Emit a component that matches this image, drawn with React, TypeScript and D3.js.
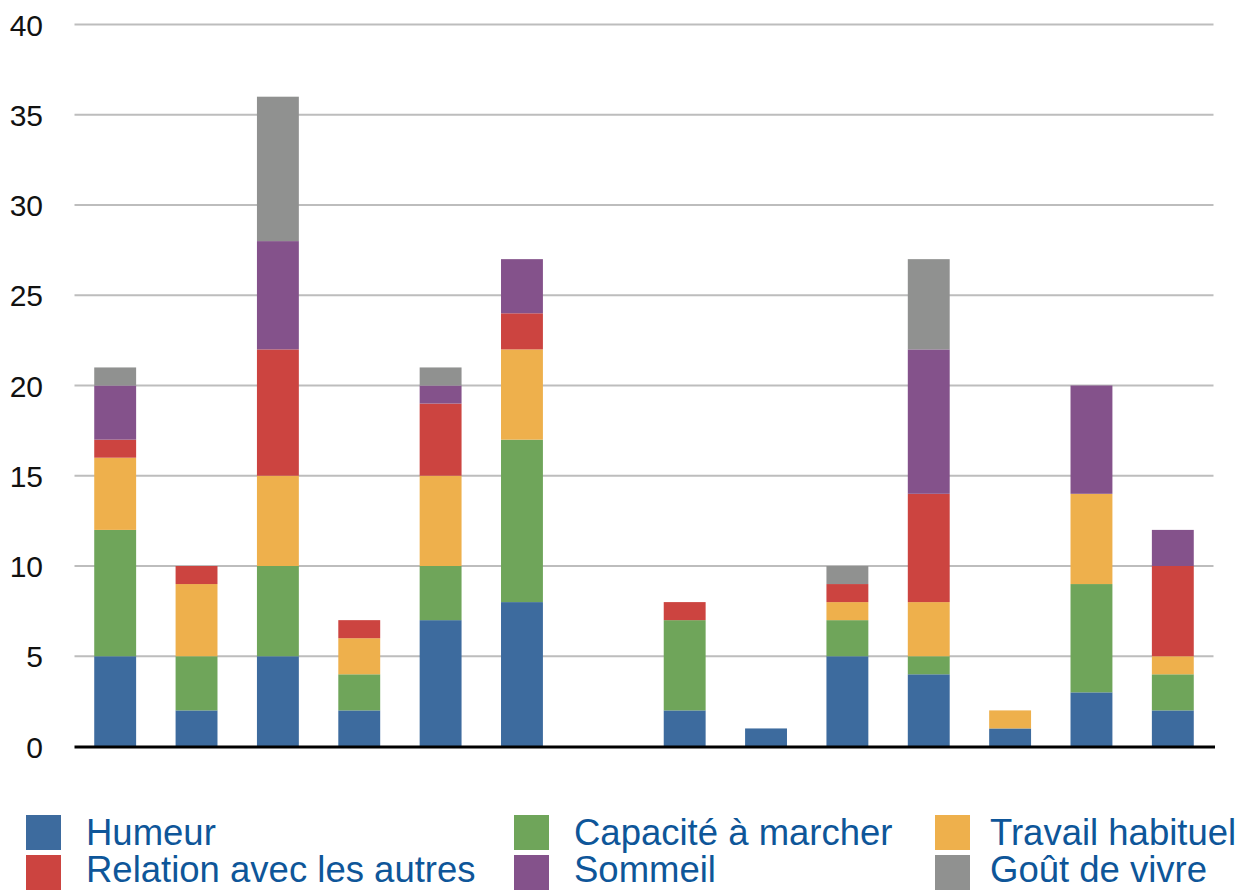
import React from "react";
import * as d3 from "d3";

const categories = ["1", "2", "3", "4", "5", "6", "7", "8", "9", "10", "11", "12", "13", "14"];
const seriesNames = ["Humeur", "Capacité à marcher", "Travail habituel", "Relation avec les autres", "Sommeil", "Goût de vivre"];
const humeur = [5, 2, 5, 2, 7, 8, 0, 2, 1, 5, 4, 1, 3, 2];
const capacite = [7, 3, 5, 2, 3, 9, 0, 5, 0, 2, 1, 0, 6, 2];
const travail = [4, 4, 5, 2, 5, 5, 0, 0, 0, 1, 3, 1, 5, 1];
const relation = [1, 1, 7, 1, 4, 2, 0, 1, 0, 1, 6, 0, 0, 5];
const sommeil = [3, 0, 6, 0, 1, 3, 0, 0, 0, 0, 8, 0, 6, 2];
const gout = [1, 0, 8, 0, 1, 0, 0, 0, 0, 1, 5, 0, 0, 0];
const colors = ["#3d6b9e", "#6fa55a", "#eeb04c", "#cc4440", "#84528b", "#909190"];
const yTicks = [0, 5, 10, 15, 20, 25, 30, 35, 40];

const W = 1242;
const H = 890;
const left = 74.5;
const right = 1213.5;
const top = 24.5;
const bottom = 746.5;

export default function App() {
  const seriesValues = [humeur, capacite, travail, relation, sommeil, gout];
  const rows = categories.map((c, i) => {
    const r: any = { cat: c };
    seriesNames.forEach((s, k) => (r[s] = seriesValues[k][i]));
    return r;
  });
  const stacked = d3.stack<any>().keys(seriesNames)(rows);
  const x = d3.scaleBand().domain(categories).range([left, right]).paddingInner(0.485).paddingOuter(0.2425);
  const y = d3.scaleLinear().domain([0, 40]).range([bottom, top]);

  const legendCols = [26, 514, 935];
  const legendTextX = [86, 574, 990];
  const legendRows = [815, 855];
  const legendBaselines = [845, 882];

  return (
    <svg width={W} height={H} style={{ position: "absolute", left: 0, top: 0, background: "#fff" }}
      fontFamily="'Liberation Sans', Arial, Helvetica, sans-serif">
      {yTicks.filter((t) => t > 0).map((t) => (
        <line key={t} x1={left} x2={right} y1={y(t)} y2={y(t)} stroke="#bdbdbd" strokeWidth={2} />
      ))}
      {yTicks.map((t) => (
        <text key={"l" + t} x={43} y={y(t) + 11} textAnchor="end" fontSize={30} fill="#111">
          {t}
        </text>
      ))}
      {stacked.map((s, k) => (
        <g key={s.key} fill={colors[k]}>
          {s.map((d, i) =>
            d[1] - d[0] > 0 ? (
              <rect key={i} x={x(categories[i])!} width={x.bandwidth()} y={y(d[1])} height={y(d[0]) - y(d[1])} />
            ) : null
          )}
        </g>
      ))}
      <line x1={left} x2={right + 1.5} y1={bottom + 0.5} y2={bottom + 0.5} stroke="#000" strokeWidth={3} />
      {seriesNames.map((s, k) => {
        const col = k % 3;
        const row = Math.floor(k / 3);
        const lx = legendCols[col];
        const ly = legendRows[row];
        return (
          <g key={"lg" + s}>
            <rect x={lx} y={ly} width={35} height={35} fill={colors[k]} />
            <text x={legendTextX[col]} y={legendBaselines[row]} fontSize={36.5} fill="#0e5699">
              {s}
            </text>
          </g>
        );
      })}
    </svg>
  );
}
